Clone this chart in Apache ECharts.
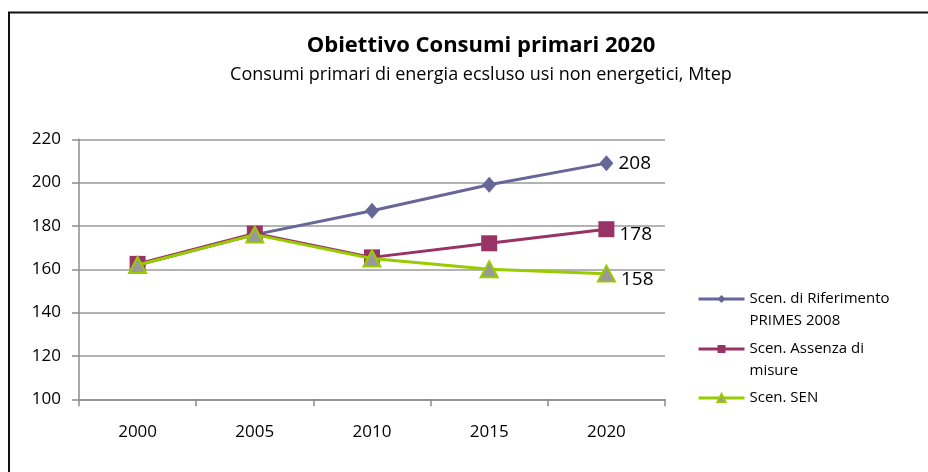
<!DOCTYPE html>
<html>
<head>
<meta charset="utf-8">
<script src="https://cdn.jsdelivr.net/npm/echarts@6/dist/echarts.min.js"></script>
<style>
  html, body { margin: 0; padding: 0; background: #fff; }
  #chart { width: 928px; height: 472px; }
</style>
</head>
<body>
<div id="chart"></div>
<script>
// data
var years = ['2000', '2005', '2010', '2015', '2020'];
var primes2008 = [162, 176, 187, 199, 209];
var assenzaMisure = [162.5, 176.5, 165.5, 172, 178.5];
var sen = [162, 176, 165, 160, 158];
var endLabels = ['208', '178', '158'];
var seriesNames = ['Scen. di Riferimento\nPRIMES 2008', 'Scen. Assenza di\nmisure', 'Scen. SEN'];

var chart = echarts.init(document.getElementById('chart'), null, { renderer: 'canvas' });

var font = '"Open Sans", Lato, sans-serif';

function endLabel(idx, dy) {
  return {
    show: true,
    position: 'right',
    distance: 5,
    offset: [0, dy],
    color: '#000',
    fontFamily: font,
    fontSize: 19,
    formatter: function (p) {
      return p.dataIndex === years.length - 1 ? endLabels[idx] : '';
    }
  };
}

// one legend per entry so the icon sits on the first text line
function legendAt(name, top, twoLines) {
  return {
    data: [{ name: name }],
    left: 697,
    top: top,
    orient: 'vertical',
    itemWidth: 46,
    itemHeight: 10,
    itemGap: 0,
    padding: 0,
    lineStyle: { width: 3 },
    formatter: function (n) { return twoLines ? '\n' + n : n; },
    textStyle: {
      color: '#000',
      fontFamily: font,
      fontSize: 15,
      lineHeight: 22
    }
  };
}

var option = {
  backgroundColor: '#fff',
  animation: false,
  title: {
    text: 'Obiettivo Consumi primari 2020',
    subtext: 'Consumi primari di energia ecsluso usi non energetici, Mtep',
    left: 476,
    textAlign: 'center',
    top: 30,
    itemGap: 9,
    textStyle: {
      color: '#000',
      fontFamily: font,
      fontSize: 22,
      fontWeight: 'bold'
    },
    subtextStyle: {
      color: '#000',
      fontFamily: font,
      fontSize: 18
    }
  },
  legend: [
    legendAt(seriesNames[0], 299 - 33, true),
    legendAt(seriesNames[1], 349 - 33, true),
    legendAt(seriesNames[2], 398 - 11, false)
  ],
  graphic: [{
    type: 'rect',
    shape: { x: 9, y: 12.5, width: 1000, height: 1000 },
    style: { fill: 'none', stroke: '#111', lineWidth: 2 },
    silent: true
  }],
  grid: {
    left: 79,
    right: 263,
    top: 139.3,
    bottom: 72.7,
    containLabel: false
  },
  xAxis: {
    type: 'category',
    data: years,
    boundaryGap: true,
    axisLine: { show: true, lineStyle: { color: '#8c8c8c', width: 1.5 } },
    axisTick: { show: true, alignWithLabel: false, length: 7, lineStyle: { color: '#8c8c8c', width: 1.5 } },
    axisLabel: { color: '#000', fontFamily: font, fontSize: 17, margin: 24 },
    splitLine: { show: false }
  },
  yAxis: {
    type: 'value',
    min: 100,
    max: 220,
    interval: 20,
    axisLine: { show: true, lineStyle: { color: '#8c8c8c', width: 1.5 } },
    axisTick: { show: true, length: 7, lineStyle: { color: '#8c8c8c', width: 1.5 } },
    axisLabel: { color: '#000', fontFamily: font, fontSize: 17, margin: 18 },
    splitLine: { show: true, lineStyle: { color: '#9a9a9a', width: 1.5 } }
  },
  series: [
    {
      name: seriesNames[0],
      type: 'line',
      data: primes2008,
      symbol: 'diamond',
      symbolSize: [14, 16],
      lineStyle: { color: '#666699', width: 3 },
      itemStyle: { color: '#666699' },
      label: endLabel(0, 0),
      z: 2
    },
    {
      name: seriesNames[1],
      type: 'line',
      data: assenzaMisure,
      symbol: 'rect',
      symbolSize: 16,
      lineStyle: { color: '#993366', width: 3 },
      itemStyle: { color: '#993366' },
      label: endLabel(1, 5),
      z: 3
    },
    {
      name: seriesNames[2],
      type: 'line',
      data: sen,
      symbol: 'triangle',
      symbolSize: [17, 16],
      lineStyle: { color: '#99cc00', width: 3 },
      itemStyle: { color: '#999999', borderColor: '#99cc00', borderWidth: 2 },
      label: endLabel(2, 6),
      z: 4
    }
  ]
};

chart.setOption(option);
</script>
</body>
</html>
